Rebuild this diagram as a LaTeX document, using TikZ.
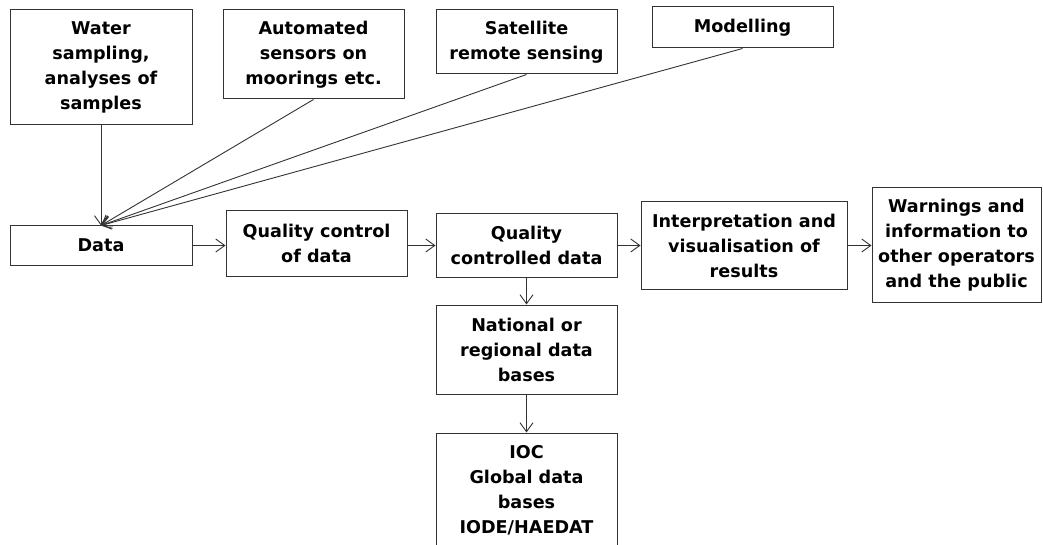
\documentclass[tikz,border=0pt]{standalone}
\usepackage{fontspec}
\setmainfont{DejaVu Sans}
\usetikzlibrary{arrows.meta}

\begin{document}
\begin{tikzpicture}[x=1pt,y=-1pt,
    box/.style={draw=black!80,line width=1pt,align=center,inner sep=0pt,
                font=\fontsize{17.6}{25}\selectfont\bfseries},
    arr/.style={draw=black!80,line width=0.9pt,-{Straight Barb[length=9pt,width=13pt]}}]
  \useasboundingbox (0,0) rectangle (1043,545);

  \node[box,minimum width=182,minimum height=115] (water)  at (101,67.5)  {Water\\sampling,\\analyses of\\samples};
  \node[box,minimum width=181,minimum height=89]  (auto)   at (313.5,54.5) {Automated\\sensors on\\moorings etc.};
  \node[box,minimum width=181,minimum height=64]  (sat)    at (526.5,42)  {Satellite\\remote sensing};
  \node[box,minimum width=181,minimum height=41]  (model)  at (742.5,27.5) {Modelling};

  \node[box,minimum width=182,minimum height=39]  (data)   at (101,245.5) {Data};
  \node[box,minimum width=181,minimum height=65]  (qc)     at (316.5,243.5) {Quality control\\of data};
  \node[box,minimum width=181,minimum height=63]  (qcd)    at (526.5,245.5) {Quality\\controlled data};
  \node[box,minimum width=206,minimum height=87]  (interp) at (744,245.5) {Interpretation and\\visualisation of\\results};
  \node[box,minimum width=169,minimum height=114] (warn)   at (956.5,245) {Warnings and\\information to\\other operators\\and the public};
  \node[box,minimum width=181,minimum height=89]  (natl)   at (526.5,349.5) {National or\\regional data\\bases};
  \node[box,minimum width=181,minimum height=115] (ioc)    at (526.5,490.5) {IOC\\Global data\\bases\\IODE/HAEDAT};

  \draw[arr] (water.south) -- (data.north);
  \draw[arr] (auto.south)  -- (data.north);
  \draw[arr] (sat.south)   -- (data.north);
  \draw[arr] (model.south) -- (data.north);

  \draw[arr] (data.east)   -- (data.east -| qc.west);
  \draw[arr] (qc.east |- qcd.center) -- (qcd.west);
  \draw[arr] (qcd.east)    -- (qcd.east -| interp.west);
  \draw[arr] (interp.east) -- (interp.east -| warn.west);
  \draw[arr] (qcd.south)   -- (natl.north);
  \draw[arr] (natl.south)  -- (ioc.north);
\end{tikzpicture}
\end{document}
